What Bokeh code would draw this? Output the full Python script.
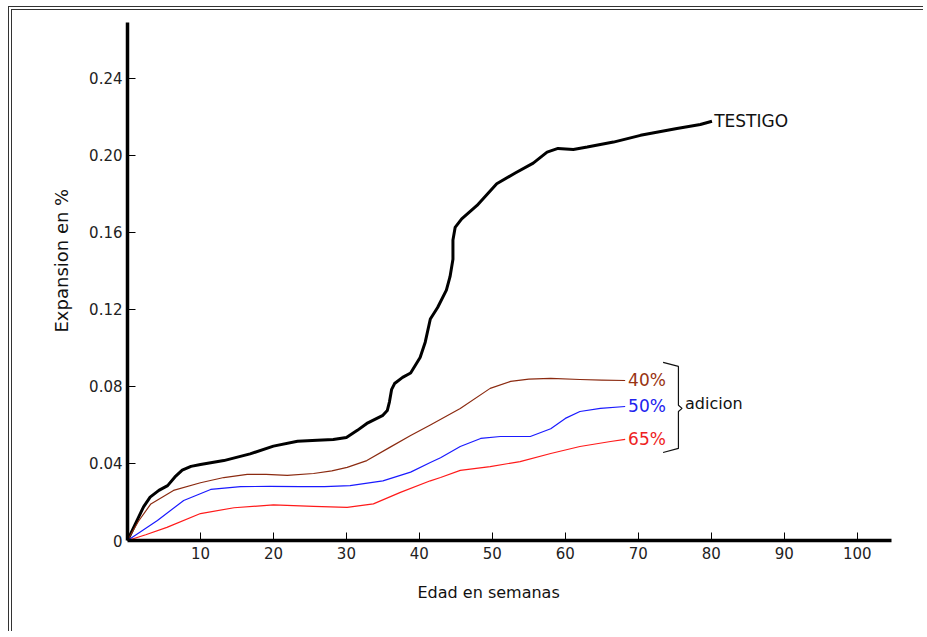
from bokeh.plotting import figure
from bokeh.models import Range1d, FixedTicker, CustomJSTickFormatter, Title
from bokeh.core.properties import value
from bokeh.embed import file_html
from bokeh.resources import INLINE

# ---------------- data ----------------
x_ticks = [10, 20, 30, 40, 50, 60, 70, 80, 90, 100]
y_ticks = [0, 0.04, 0.08, 0.12, 0.16, 0.20, 0.24]

testigo_weeks = [0, 1, 2.2, 3.1, 4.3, 5.5, 6.5, 7.5, 8.7, 10, 13.2, 16.8, 20, 23.3, 26,
                 28.2, 30, 31.5, 32.8, 35, 35.6, 35.9, 36.2, 36.6, 37.7, 38.8, 40.1,
                 40.8, 41.5, 42.5, 43.7, 44.2, 44.6, 44.6, 44.9, 45.8, 47.9, 50.6, 53.2,
                 55.6, 57.5, 59, 61.1, 63, 66.6, 70.3, 74, 75.3, 78.5, 80.1]
testigo = [0, 0.008, 0.0175, 0.0225, 0.026, 0.0285, 0.033, 0.0365, 0.0385, 0.0395,
           0.0415, 0.045, 0.049, 0.0515, 0.052, 0.0524, 0.0535, 0.0572, 0.0608, 0.065,
           0.0675, 0.072, 0.0785, 0.0815, 0.0847, 0.087, 0.095, 0.103, 0.115, 0.121,
           0.130, 0.137, 0.146, 0.156, 0.1626, 0.167, 0.174, 0.1853, 0.191, 0.196,
           0.2017, 0.2036, 0.2031, 0.2043, 0.2069, 0.2104, 0.213, 0.214, 0.216, 0.2177]

a40_weeks = [0, 1.5, 3.2, 6.3, 10, 13.2, 16.4, 19, 21.9, 25.5, 28, 30.1, 32.8, 36,
             38.8, 41.5, 45.6, 49.7, 52.5, 55, 58, 62, 65, 68.2]
a40 = [0, 0.010, 0.019, 0.026, 0.030, 0.0327, 0.0343, 0.0343, 0.0338, 0.0348, 0.0362,
       0.038, 0.0415, 0.0485, 0.0545, 0.060, 0.0686, 0.079, 0.0826, 0.0838, 0.0842,
       0.0836, 0.0833, 0.0831]

a50_weeks = [0, 2, 4.1, 7.7, 11.4, 15.5, 19.5, 23.7, 27, 30.5, 35, 38.8, 41.5, 42.9,
             45.6, 48.4, 51.1, 55.2, 58, 60, 62, 64.8, 68.2]
a50 = [0, 0.005, 0.0104, 0.0208, 0.0265, 0.028, 0.0281, 0.028, 0.028, 0.0285, 0.031,
       0.0355, 0.0405, 0.043, 0.0488, 0.053, 0.054, 0.054, 0.058, 0.0634, 0.067, 0.0686,
       0.0696]

a65_weeks = [0, 2.5, 5.4, 10, 14.6, 20, 25.5, 30.1, 33.7, 37.4, 41.5, 42.9, 45.6, 49.7,
             53.8, 58, 62, 66.2, 68.2]
a65 = [0, 0.003, 0.0068, 0.014, 0.017, 0.0185, 0.0177, 0.0172, 0.019, 0.025, 0.031,
       0.0327, 0.0364, 0.0384, 0.041, 0.0452, 0.0488, 0.0514, 0.0525]

series_labels = ["40%", "50%", "65%"]
x_title = "Edad en semanas"
y_title = "Expansion en  %"
FONT = "DejaVu Sans"

# ---------------- figure ----------------
p = figure(width=915, height=625, output_backend="svg", toolbar_location=None,
           x_range=Range1d(0, 104.7), y_range=Range1d(0, 0.269),
           min_border_left=115, min_border_right=36, min_border_top=12,
           min_border_bottom=95)
p.styles = {"margin-left": "8px", "margin-top": "6px",
            "border-left": "4px double #333333", "border-top": "4px double #333333"}
p.outline_line_color = None
p.grid.visible = False
p.background_fill_color = "white"
p.border_fill_color = "white"

for ax in (p.xaxis[0], p.yaxis[0]):
    ax.axis_line_width = 3.5
    ax.axis_line_color = "black"
    ax.major_tick_in = 8
    ax.major_tick_out = 0
    ax.minor_tick_in = 0
    ax.minor_tick_out = 0
    ax.major_tick_line_color = "black"
    ax.major_tick_line_width = 1
    ax.major_label_text_font = FONT
    ax.major_label_text_font_size = "15px"
    ax.major_label_text_color = "#222222"

p.xaxis.ticker = FixedTicker(ticks=x_ticks)
p.yaxis.ticker = FixedTicker(ticks=y_ticks)
p.yaxis.formatter = CustomJSTickFormatter(code="return tick == 0 ? '0' : tick.toFixed(2);")
p.xaxis.major_label_standoff = 6
p.yaxis.major_label_standoff = 5

# axis titles (offset to match the original placement)
p.add_layout(Title(text=x_title, align="left", offset=290, standoff=38,
                   text_font=FONT, text_font_size="16px", text_font_style="normal",
                   text_color="#111111"), "below")
p.add_layout(Title(text=y_title, align="left", offset=208, standoff=29,
                   text_font=FONT, text_font_size="18px", text_font_style="normal",
                   text_color="#111111"), "left")

# ---------------- lines ----------------
p.line(testigo_weeks, testigo, line_color="black", line_width=3, line_join="round")
colors_line = ["#8b2a10", "#1a1aff", "#ff1a1a"]
colors_text = ["#993311", "#2222ee", "#ee2222"]
for wk, vals, cl in zip([a40_weeks, a50_weeks, a65_weeks], [a40, a50, a65], colors_line):
    p.line(wk, vals, line_color=cl, line_width=1.2, line_join="round")

# ---------------- labels ----------------
p.text(x=[testigo_weeks[-1] + 0.3], y=[testigo[-1]], text=["TESTIGO"],
       text_font=value(FONT), text_font_size="17px", text_color="#111111",
       text_baseline="middle", text_align="left")
for wk, vals, lab, ct in zip([a40_weeks, a50_weeks, a65_weeks], [a40, a50, a65],
                             series_labels, colors_text):
    p.text(x=[wk[-1] + 0.4], y=[vals[-1]], text=[lab], text_font=value(FONT),
           text_font_size="17px", text_color=ct, text_baseline="middle",
           text_align="left")

# brace grouping the additions
bx0, bx1, btip = 73.4, 75.5, 76.0
top = a40[-1] + 0.0094
bot = a65[-1] - 0.0068
mid = (top + bot) / 2 - 0.0005
p.line([bx0, bx1, bx1, btip, bx1, bx1, bx0],
       [top, top - 0.0021, mid + 0.0016, mid, mid - 0.0016, bot + 0.0021, bot],
       line_color="#111111", line_width=1.2)
p.text(x=[76.4], y=[mid + 0.0026], text=["adicion"], text_font=value(FONT),
       text_font_size="16px", text_color="#111111", text_baseline="middle",
       text_align="left")

open("out.html", "w").write(file_html(p, INLINE))
